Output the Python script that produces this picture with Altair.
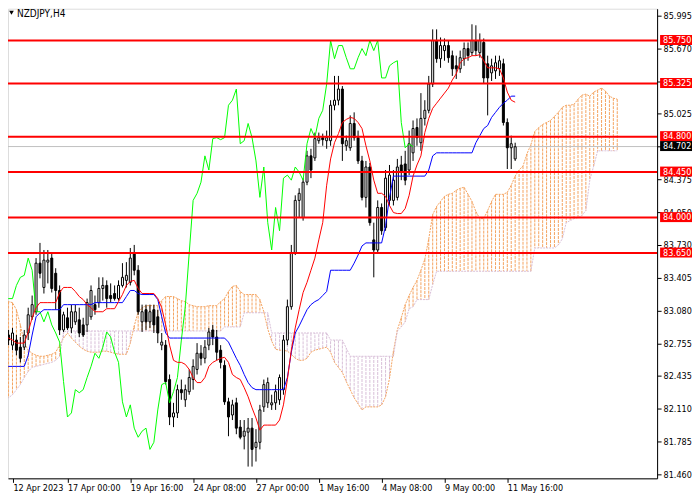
import altair as alt
import pandas as pd

chart_title = "NZDJPY,H4"

# ---- H4 candles (bar index 0..130) ----
bar_open = [82.97, 82.84, 82.74, 82.79, 82.72, 82.72, 82.86, 83.02, 83.07, 83.55,
            83.31, 83.56, 83.60, 83.45, 83.28, 82.89, 83.01, 82.91, 82.97, 82.99,
            82.94, 82.94, 83.02, 83.14, 83.16, 83.30, 83.33, 83.23, 83.25, 83.20,
            83.33, 83.38, 83.36, 83.65, 83.48, 82.97, 83.09, 82.97, 83.09, 83.02,
            82.74, 82.74, 82.40, 82.03, 82.07, 82.30, 82.20, 82.28, 82.40, 82.50,
            82.66, 82.61, 82.74, 82.89, 82.82, 82.69, 82.54, 82.18, 82.05, 82.17,
            81.93, 81.84, 81.88, 81.92, 81.73, 81.78, 82.13, 82.17, 82.15, 82.17,
            82.20, 82.30, 82.79, 83.12, 83.65, 84.17, 84.00, 84.35, 84.61, 84.59,
            84.76, 84.79, 84.76, 84.76, 85.11, 85.16, 85.27, 84.71, 84.69, 84.93,
            84.79, 84.56, 84.20, 84.50, 83.78, 83.68, 84.10, 83.90, 84.17, 84.17,
            84.20, 84.52, 84.53, 84.47, 84.64, 84.89, 84.74, 84.98, 85.06, 85.32,
            85.75, 85.57, 85.65, 85.70, 85.60, 85.50, 85.47, 85.57, 85.67, 85.63,
            85.75, 85.63, 85.73, 85.52, 85.43, 85.45, 85.47, 85.52, 84.94, 84.69,
            84.58]
bar_high = [83.03, 82.89, 82.91, 82.84, 82.82, 82.89, 83.11, 83.23, 83.60, 83.75,
            83.68, 83.68, 83.66, 83.50, 83.33, 83.07, 83.11, 83.14, 83.14, 83.11,
            83.01, 83.20, 83.33, 83.23, 83.41, 83.41, 83.38, 83.35, 83.33, 83.38,
            83.55, 83.56, 83.70, 83.73, 83.53, 83.14, 83.14, 83.14, 83.14, 83.09,
            82.86, 82.79, 82.45, 82.17, 82.35, 82.40, 82.35, 82.50, 82.60, 82.76,
            82.74, 82.79, 82.91, 82.94, 82.89, 82.74, 82.59, 82.22, 82.20, 82.22,
            82.00, 82.00, 82.02, 82.02, 81.91, 82.15, 82.40, 82.42, 82.25, 82.35,
            82.45, 82.84, 83.19, 83.73, 84.22, 84.29, 84.39, 84.66, 84.68, 84.84,
            84.84, 84.83, 84.86, 85.16, 85.40, 85.40, 85.30, 84.81, 85.01, 85.04,
            84.86, 84.61, 84.56, 84.54, 83.95, 84.17, 84.14, 84.47, 84.52, 84.47,
            84.58, 84.61, 84.66, 84.86, 84.96, 84.98, 85.23, 85.16, 85.40, 85.86,
            85.86, 85.78, 85.77, 85.75, 85.65, 85.60, 85.65, 85.73, 85.73, 85.91,
            85.90, 85.82, 85.77, 85.60, 85.57, 85.60, 85.60, 85.57, 84.98, 84.81,
            84.74]
bar_low = [82.79, 82.74, 82.69, 82.64, 82.57, 82.69, 82.79, 82.99, 83.04, 83.40,
           83.25, 83.35, 83.26, 83.09, 82.84, 82.87, 82.89, 82.86, 82.94, 82.82,
           82.82, 82.87, 82.99, 83.04, 83.11, 83.18, 83.11, 83.16, 83.18, 83.18,
           83.31, 83.31, 83.33, 83.43, 83.04, 82.87, 82.89, 82.91, 82.86, 82.76,
           82.69, 82.35, 81.95, 81.93, 82.02, 82.20, 82.13, 82.25, 82.30, 82.45,
           82.54, 82.56, 82.69, 82.74, 82.59, 82.51, 82.15, 81.84, 82.00, 81.86,
           81.81, 81.71, 81.54, 81.54, 81.59, 81.71, 82.08, 82.12, 82.10, 82.10,
           82.15, 82.25, 82.74, 83.09, 83.63, 84.00, 83.97, 84.32, 84.39, 84.56,
           84.73, 84.71, 84.68, 84.71, 85.06, 85.11, 84.56, 84.66, 84.66, 84.76,
           84.53, 84.17, 84.10, 83.92, 83.41, 83.66, 83.83, 83.87, 84.12, 84.12,
           84.17, 84.37, 84.32, 84.42, 84.56, 84.71, 84.66, 84.91, 85.03, 85.29,
           85.53, 85.48, 85.55, 85.53, 85.40, 85.37, 85.43, 85.50, 85.55, 85.60,
           85.60, 85.58, 85.33, 85.01, 85.35, 85.37, 85.40, 84.91, 84.48, 84.48,
           84.56]
bar_close = [82.84, 82.79, 82.86, 82.69, 82.61, 82.84, 83.04, 83.14, 83.55, 83.45,
             83.58, 83.58, 83.30, 83.28, 82.89, 83.04, 82.91, 83.07, 83.07, 82.86,
             82.84, 83.16, 83.28, 83.09, 83.30, 83.33, 83.20, 83.20, 83.20, 83.33,
             83.41, 83.43, 83.60, 83.48, 83.07, 83.07, 82.97, 83.07, 82.94, 82.86,
             82.77, 82.38, 82.03, 82.07, 82.30, 82.27, 82.30, 82.42, 82.53, 82.66,
             82.61, 82.72, 82.87, 82.82, 82.67, 82.57, 82.18, 82.03, 82.15, 81.92,
             81.83, 81.89, 81.92, 81.71, 81.78, 82.10, 82.35, 82.37, 82.17, 82.28,
             82.42, 82.79, 83.12, 83.65, 84.17, 84.24, 84.35, 84.61, 84.47, 84.78,
             84.79, 84.77, 84.79, 85.11, 85.16, 85.27, 84.73, 84.76, 84.93, 84.79,
             84.56, 84.20, 84.50, 83.95, 83.68, 84.10, 83.87, 84.39, 84.42, 84.37,
             84.50, 84.45, 84.37, 84.73, 84.88, 84.79, 84.98, 85.06, 85.32, 85.75,
             85.57, 85.70, 85.70, 85.58, 85.47, 85.47, 85.58, 85.67, 85.60, 85.75,
             85.65, 85.75, 85.38, 85.38, 85.50, 85.53, 85.55, 84.94, 84.69, 84.73,
             84.70]

# ---- Ichimoku lines ----
tenkan = [82.82, 82.81, 82.79, 82.76, 82.76, 82.76, 82.87, 83.01, 83.11, 83.16,
          83.16, 83.16, 83.16, 83.16, 83.26, 83.31, 83.31, 83.31, 83.27, 83.22,
          83.19, 83.14, 83.11, 83.07, 83.07, 83.07, 83.10, 83.10, 83.10, 83.17,
          83.24, 83.33, 83.37, 83.38, 83.30, 83.25, 83.25, 83.25, 83.25, 83.20,
          83.11, 82.94, 82.74, 82.59, 82.57, 82.57, 82.55, 82.50, 82.42, 82.37,
          82.37, 82.42, 82.53, 82.57, 82.59, 82.61, 82.62, 82.57, 82.45, 82.42,
          82.40, 82.32, 82.23, 82.12, 82.02, 81.90, 81.95, 81.95, 81.95, 81.95,
          82.00, 82.15, 82.40, 82.69, 82.91, 83.09, 83.26, 83.36, 83.48, 83.60,
          83.78, 83.95, 84.32, 84.58, 84.74, 84.83, 84.94, 84.97, 84.99, 84.98,
          84.94, 84.88, 84.71, 84.56, 84.37, 84.24, 84.24, 84.21, 84.12, 84.05,
          84.04, 84.04, 84.09, 84.22, 84.41, 84.52, 84.61, 84.84, 84.98, 85.08,
          85.13, 85.18, 85.23, 85.28, 85.36, 85.42, 85.53, 85.57, 85.58, 85.60,
          85.60, 85.61, 85.55, 85.48, 85.48, 85.48, 85.47, 85.38, 85.24, 85.16,
          85.14]
kijun = [82.53, 82.53, 82.53, 82.53, 82.53, 82.53, 82.64, 82.84, 83.02, 83.06,
         83.09, 83.09, 83.09, 83.09, 83.09, 83.14, 83.14, 83.14, 83.14, 83.14,
         83.14, 83.14, 83.14, 83.16, 83.16, 83.16, 83.16, 83.16, 83.16, 83.16,
         83.16, 83.22, 83.28, 83.28, 83.25, 83.24, 83.24, 83.24, 83.24, 83.19,
         83.02, 82.86, 82.81, 82.81, 82.81, 82.81, 82.81, 82.81, 82.81, 82.81,
         82.81, 82.81, 82.81, 82.81, 82.81, 82.81, 82.81, 82.77, 82.69, 82.61,
         82.54, 82.45, 82.37, 82.32, 82.30, 82.30, 82.30, 82.30, 82.30, 82.30,
         82.30, 82.30, 82.42, 82.67, 82.86, 82.93, 83.01, 83.09, 83.14, 83.17,
         83.19, 83.23, 83.27, 83.48, 83.48, 83.48, 83.48, 83.48, 83.48, 83.55,
         83.63, 83.72, 83.75, 83.75, 83.75, 83.75, 83.75, 83.92, 84.20, 84.41,
         84.41, 84.41, 84.41, 84.41, 84.41, 84.41, 84.41, 84.41, 84.47, 84.61,
         84.64, 84.64, 84.64, 84.64, 84.64, 84.64, 84.64, 84.64, 84.64, 84.64,
         84.74, 84.81, 84.88, 84.91, 84.99, 85.04, 85.09, 85.13, 85.16, 85.20,
         85.20]
# cloud spans are drawn 26 bars ahead (index 0..156)
senkou_a = [83.17, 83.17, 83.16, 83.09, 82.94, 82.76, 82.69, 82.66, 82.64, 82.63,
            82.63, 82.64, 82.65, 82.67, 82.74, 82.81, 82.86, 82.81, 82.77, 82.73,
            82.70, 82.68, 82.67, 82.67, 82.67, 82.68,
            82.68, 82.67, 82.66, 82.65, 82.65, 82.65, 82.76, 82.93, 83.07, 83.11,
            83.13, 83.13, 83.13, 83.13, 83.18, 83.22, 83.22, 83.22, 83.20, 83.18,
            83.17, 83.14, 83.13, 83.12, 83.12, 83.12, 83.13, 83.13, 83.13, 83.17,
            83.20, 83.27, 83.32, 83.33, 83.27, 83.24, 83.24, 83.24, 83.24, 83.19,
            83.07, 82.90, 82.78, 82.70, 82.69, 82.69, 82.68, 82.65, 82.61, 82.59,
            82.59, 82.61, 82.67, 82.69, 82.70, 82.71, 82.72, 82.67, 82.57, 82.52,
            82.47, 82.38, 82.30, 82.22, 82.16, 82.10, 82.13, 82.13, 82.13, 82.13,
            82.15, 82.23, 82.41, 82.68, 82.89, 83.01, 83.14, 83.23, 83.31, 83.38,
            83.48, 83.59, 83.79, 84.03, 84.11, 84.16, 84.21, 84.23, 84.24, 84.27,
            84.29, 84.30, 84.23, 84.16, 84.06, 83.99, 83.99, 84.07, 84.16, 84.23,
            84.23, 84.23, 84.25, 84.32, 84.41, 84.47, 84.51, 84.63, 84.72, 84.85,
            84.89, 84.92, 84.94, 84.96, 85.00, 85.04, 85.09, 85.11, 85.11, 85.12,
            85.17, 85.21, 85.22, 85.20, 85.24, 85.26, 85.28, 85.25, 85.20, 85.18,
            85.17]
senkou_b = [82.20, 82.22, 82.25, 82.30, 82.35, 82.42, 82.48, 82.52, 82.53, 82.54,
            82.55, 82.56, 82.57, 82.59, 82.63, 82.87, 82.88, 82.88, 82.88, 82.88,
            82.88, 82.88, 82.88, 82.88, 82.88, 82.88, 82.88, 82.88, 82.88, 82.88,
            82.88, 82.88, 82.88, 82.88, 82.88, 82.88, 82.88, 82.88, 82.88, 82.88,
            82.88, 82.88, 82.88, 82.88, 82.88, 82.88, 82.88, 82.88, 82.88, 82.88,
            82.88, 82.88, 82.88, 82.88, 82.88, 82.88, 82.92, 82.92, 82.92, 82.92,
            82.92, 83.06, 83.06, 83.06, 83.06, 83.06, 83.06, 83.06, 82.86, 82.86,
            82.86, 82.86, 82.86, 82.86, 82.86, 82.86, 82.86, 82.86, 82.86, 82.86,
            82.86, 82.86, 82.86, 82.79, 82.79, 82.79, 82.79, 82.71, 82.63, 82.63,
            82.63, 82.63, 82.63, 82.63, 82.63, 82.63, 82.63, 82.63, 82.63, 82.63,
            82.88, 82.92, 82.97, 83.10, 83.12, 83.19, 83.19, 83.19, 83.19, 83.34,
            83.47, 83.47, 83.47, 83.47, 83.47, 83.47, 83.47, 83.47, 83.47, 83.47,
            83.47, 83.47, 83.47, 83.47, 83.47, 83.47, 83.47, 83.47, 83.47, 83.47,
            83.47, 83.47, 83.47, 83.47, 83.47, 83.70, 83.70, 83.70, 83.70, 83.70,
            83.70, 83.73, 83.79, 83.95, 83.97, 83.99, 84.00, 84.02, 84.07, 84.37,
            84.51, 84.66, 84.66, 84.66, 84.66, 84.66, 84.66]
chikou_shift = 26

# ---- horizontal levels and labels ----
levels = [85.750, 85.325, 84.800, 84.450, 84.000, 83.650]
last_price = [84.702]
price_ticks = [85.995, 85.670, 85.345, 85.025, 84.700, 84.375, 84.050, 83.730,
               83.405, 83.080, 82.755, 82.435, 82.110, 81.785, 81.460]
date_tick_bars = [2.125, 16, 32, 48, 64, 80, 96, 112, 128]
date_tick_labels = ["12 Apr 2023", "17 Apr 00:00", "19 Apr 16:00", "24 Apr 08:00",
                    "27 Apr 00:00", "1 May 16:00", "4 May 08:00", "9 May 00:00",
                    "11 May 16:00"]

FONT = "DejaVu Sans Condensed, Liberation Sans, sans-serif"
W, H = 651, 471

idx = list(range(len(bar_close)))
candles = pd.DataFrame({"n": idx, "o": bar_open, "h": bar_high, "l": bar_low, "c": bar_close})
lines = pd.DataFrame({"n": idx, "tenkan": tenkan, "kijun": kijun})
chikou = pd.DataFrame({"n": [i - chikou_shift for i in idx[chikou_shift:]],
                       "v": bar_close[chikou_shift:]})
cloud = pd.DataFrame({"n": list(range(len(senkou_a))), "a": senkou_a, "b": senkou_b})
lv = pd.DataFrame({"level": levels})
lp = pd.DataFrame({"level": last_price})

xs = alt.Scale(domain=[2.125, 164.875], nice=False, zero=False)
ys = alt.Scale(domain=[81.424, 86.064], nice=False, zero=False)

date_expr = ("[" + ",".join("'" + s + "'" for s in date_tick_labels) + "][indexof(["
             + ",".join(str(v) for v in date_tick_bars) + "], datum.value)]")

x_axis = alt.Axis(values=date_tick_bars, labelExpr=date_expr, title=None, grid=False,
                  tickSize=4, tickColor="black", domainColor="black", labelColor="black",
                  labelFont=FONT, labelFontSize=9, labelAlign="left", labelBaseline="top",
                  labelPadding=1, labelFlush=False, labelOverlap=False)
y_axis = alt.Axis(values=price_ticks, format=".3f", orient="right", title=None, grid=False,
                  tickSize=4, tickColor="black", domainColor="black", labelColor="black",
                  labelFont=FONT, labelFontSize=9, labelPadding=2, labelFlush=False,
                  labelOverlap=False)


def X(field):
    return alt.X(field, type="quantitative", scale=xs, axis=x_axis)


def Y(field):
    return alt.Y(field, type="quantitative", scale=ys, axis=y_axis)


hatch = alt.Chart(cloud).mark_rule(strokeWidth=1, strokeDash=[3, 1], clip=True).encode(
    x=X("n"), y=Y("a"), y2="b",
    color=alt.condition("datum.a >= datum.b", alt.value("#F4A460"), alt.value("#D8BFD8")))
line_a = alt.Chart(cloud).mark_line(color="#F4A460", strokeWidth=1, strokeDash=[2, 1],
                                    clip=True).encode(x=X("n"), y=Y("a"))
line_b = alt.Chart(cloud).mark_line(color="#D8BFD8", strokeWidth=1, strokeDash=[2, 1],
                                    clip=True).encode(x=X("n"), y=Y("b"))
gray = alt.Chart(lp).mark_rule(color="#C0C0C0", strokeWidth=1, clip=True).encode(y=Y("level"))
wicks = alt.Chart(candles).mark_rule(color="black", strokeWidth=1, clip=True).encode(
    x=X("n"), y=Y("l"), y2="h")
bodies = alt.Chart(candles).mark_bar(size=2, stroke="black", strokeWidth=1, clip=True).encode(
    x=X("n"), y=Y("o"), y2="c",
    fill=alt.condition("datum.c >= datum.o", alt.value("white"), alt.value("black")))
chik = alt.Chart(chikou).mark_line(color="#00FF00", strokeWidth=1, clip=True).encode(
    x=X("n"), y=Y("v"))
kij = alt.Chart(lines).mark_line(color="#0000FF", strokeWidth=1, clip=True).encode(
    x=X("n"), y=Y("kijun"))
ten = alt.Chart(lines).mark_line(color="#FF0000", strokeWidth=1, clip=True).encode(
    x=X("n"), y=Y("tenkan"))
red_lines = alt.Chart(lv).mark_rule(color="#FF0000", strokeWidth=2, clip=True).encode(y=Y("level"))

red_box = alt.Chart(lv).mark_rect(color="#FF0000", yOffset=-5.5, y2Offset=4.5).encode(
    x=alt.value(W + 3), x2=alt.value(W + 35), y=Y("level"), y2="level")
red_txt = alt.Chart(lv).mark_text(align="left", baseline="middle", color="white", font=FONT,
                                  fontSize=9, dy=-0.5).encode(
    x=alt.value(W + 6), y=Y("level"), text=alt.Text("level:Q", format=".3f"))
blk_box = alt.Chart(lp).mark_rect(color="black", yOffset=-5.5, y2Offset=4.5).encode(
    x=alt.value(W + 3), x2=alt.value(W + 35), y=Y("level"), y2="level")
blk_txt = alt.Chart(lp).mark_text(align="left", baseline="middle", color="white", font=FONT,
                                  fontSize=9, dy=-0.5).encode(
    x=alt.value(W + 6), y=Y("level"), text=alt.Text("level:Q", format=".3f"))

tdf = pd.DataFrame({"t": [chart_title]})
title_txt = alt.Chart(tdf).mark_text(align="left", baseline="top", color="#000000", font=FONT,
                                     fontSize=10).encode(
    x=alt.value(9), y=alt.value(0), text="t:N")
tri = alt.Chart(tdf).mark_point(shape="triangle-down", filled=True, color="black",
                                size=22, opacity=1).encode(x=alt.value(3.5), y=alt.value(4))

chart = alt.layer(
    hatch, line_a, line_b, gray, wicks, bodies, chik, kij, ten, red_lines,
    red_box, red_txt, blk_box, blk_txt, title_txt, tri
).properties(
    width=W, height=H, padding={"left": 0, "top": 0, "right": 0, "bottom": 0}
).configure_view(stroke=None).configure(background="white")

chart.save("out.html", embed_options={"renderer": "svg", "actions": False})
